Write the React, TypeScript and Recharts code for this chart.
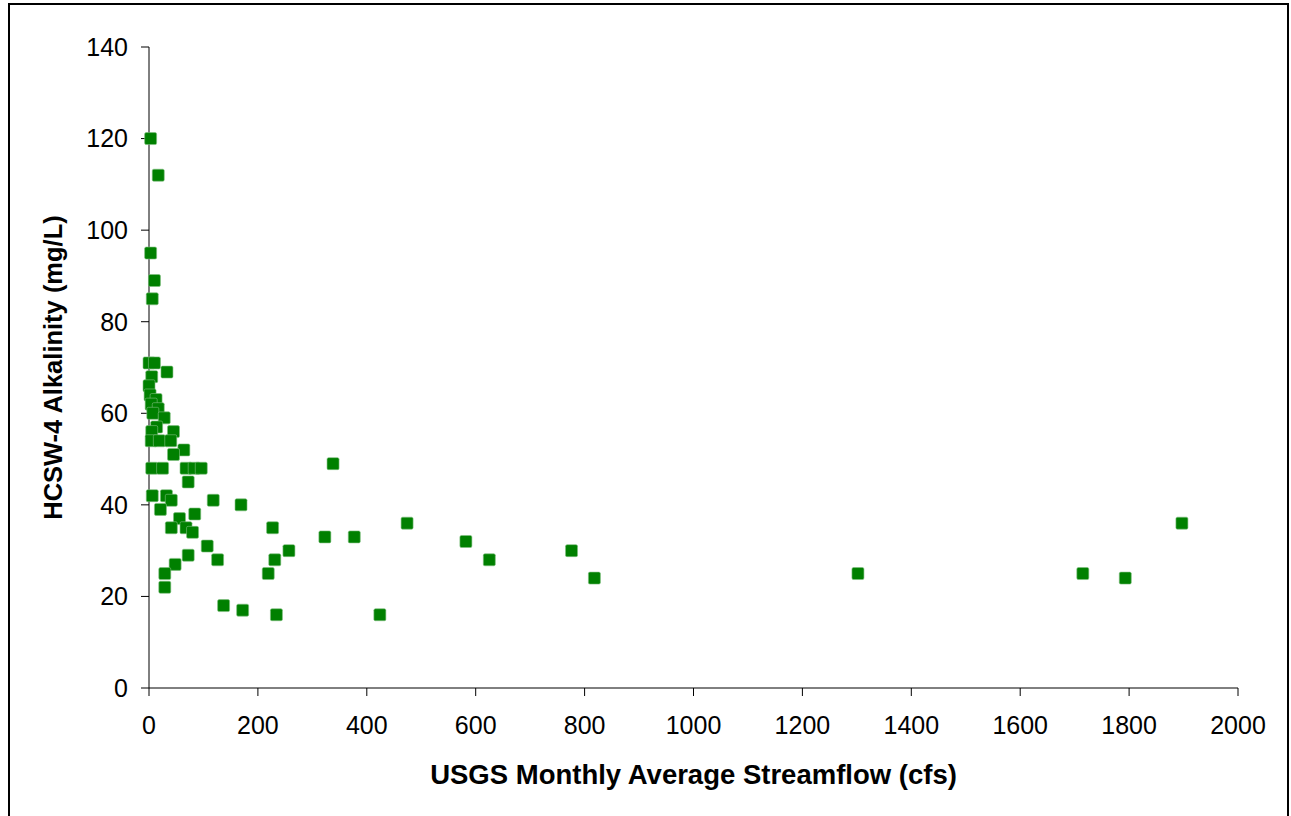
import { ScatterChart, Scatter, XAxis, YAxis } from "recharts";

// USGS monthly average streamflow (cfs) paired with HCSW-4 alkalinity (mg/L)
const flow = [
  3, 17, 3, 10, 6, 0, 10, 5, 33, 0, 2, 13, 4, 17, 7, 28, 14, 45, 5, 4, 19, 40, 64, 45, 5, 25, 68, 83,
  96, 72, 6, 32, 41, 118, 169, 21, 84, 56, 41, 68, 80, 227, 107, 257, 72, 126, 231, 48, 29, 219, 29,
  137, 172, 234, 338, 323, 377, 424, 474, 582, 625, 776, 818, 1302, 1715, 1793, 1897,
];
const alkalinity = [
  120, 112, 95, 89, 85, 71, 71, 68, 69, 66, 64, 63, 62, 61, 60, 59, 57, 56, 56, 54, 54, 54, 52, 51, 48,
  48, 48, 48, 48, 45, 42, 42, 41, 41, 40, 39, 38, 37, 35, 35, 34, 35, 31, 30, 29, 28, 28, 27, 25, 25,
  22, 18, 17, 16, 49, 33, 33, 16, 36, 32, 28, 30, 24, 25, 25, 24, 36,
];

const xTicks = [0, 200, 400, 600, 800, 1000, 1200, 1400, 1600, 1800, 2000];
const yTicks = [0, 20, 40, 60, 80, 100, 120, 140];

const font = "'Liberation Sans', Arial, sans-serif";

function SquareMarker(props: any) {
  const { cx, cy } = props;
  if (cx == null || cy == null) return null;
  return (
    <rect
      x={cx - 6}
      y={cy - 6}
      width={12}
      height={12}
      rx={1.5}
      fill="#008000"
      stroke="#7fbf7f"
      strokeWidth={0.6}
    />
  );
}

export default function App() {
  const points = flow.map((f, i) => ({ flow: f, alk: alkalinity[i] }));

  return (
    <div style={{ position: "absolute", left: 0, top: 0, width: 1291, height: 816, overflow: "hidden", background: "#fff" }}>
      <div
        style={{
          position: "absolute",
          left: 8,
          top: 3,
          width: 1281,
          height: 840,
          boxSizing: "border-box",
          border: "2px solid #000",
        }}
      />
      <div style={{ position: "absolute", left: 0, top: 0 }}>
        <ScatterChart width={1291} height={816} margin={{ top: 47, right: 53, bottom: 0, left: 0 }}>
          <XAxis
            type="number"
            dataKey="flow"
            domain={[0, 2000]}
            ticks={xTicks}
            interval={0}
            height={128}
            tickSize={8}
            tickMargin={20}
            stroke="#000"
            tick={{ fill: "#000", fontSize: 25, fontFamily: font }}
            label={{
              value: "USGS Monthly Average Streamflow (cfs)",
              position: "center",
              dy: 22,
              style: { fill: "#000", fontSize: 27.5, fontWeight: "bold", fontFamily: font },
            }}
          />
          <YAxis
            type="number"
            dataKey="alk"
            domain={[0, 140]}
            ticks={yTicks}
            interval={0}
            width={149}
            tickSize={8}
            tickMargin={13}
            stroke="#000"
            tick={{ fill: "#000", fontSize: 25, fontFamily: font }}
            label={{
              value: "HCSW-4 Alkalinity (mg/L)",
              angle: -90,
              position: "center",
              dx: -22,
              style: { fill: "#000", fontSize: 25.5, fontWeight: "bold", fontFamily: font, textAnchor: "middle" },
            }}
          />
          <Scatter data={points} shape={SquareMarker} fill="#008000" isAnimationActive={false} />
        </ScatterChart>
      </div>
    </div>
  );
}
